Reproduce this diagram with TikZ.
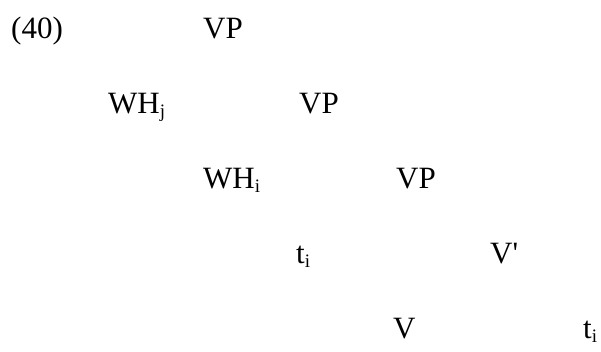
\documentclass[tikz,border=0pt]{standalone}
\usepackage{fontspec}
\setmainfont{Liberation Serif}[Ligatures=TeXOff]
\newcommand\lowsub[1]{\raisebox{-4pt}{\fontsize{19}{19}\selectfont #1}}
\begin{document}
\begin{tikzpicture}[x=1pt,y=-1pt,
  lab/.style={anchor=base west, inner sep=0pt, font=\fontsize{31}{31}\selectfont}]
\useasboundingbox (0,0) rectangle (601,351);
\node[lab] (n40) at (11,38) {(40)};
\node[lab] (vp1) at (203,38) {VP};
\node[lab] (whj) at (108,113) {WH\lowsub{j}};
\node[lab] (vp2) at (299,113) {VP};
\node[lab] (whi) at (203,188) {WH\lowsub{i}};
\node[lab] (vp3) at (396,188) {VP};
\node[lab] (ti1) at (296,263) {t\lowsub{i}};
\node[lab] (vbar) at (490,263) {V'};
\node[lab] (v) at (393,338) {V};
\node[lab] (ti2) at (583,338) {t\lowsub{i}};
\end{tikzpicture}
\end{document}
